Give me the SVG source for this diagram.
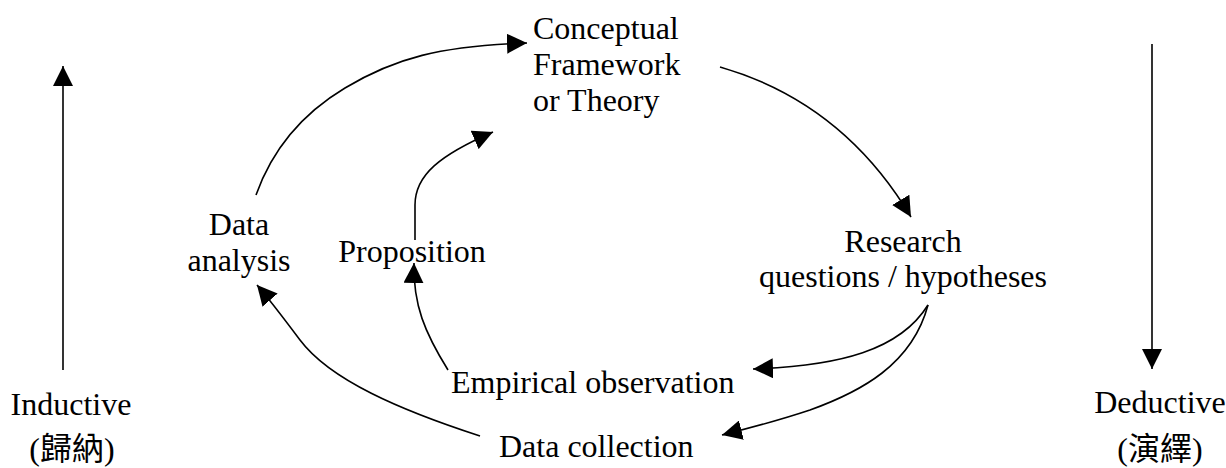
<svg xmlns="http://www.w3.org/2000/svg" width="1226" height="468" viewBox="0 0 1226 468">
<style>
text{font-family:"Liberation Serif","Times New Roman","Noto Sans CJK TC",serif;font-size:32px;fill:#000}
.c{text-anchor:middle}
.ln{fill:none;stroke:#000;stroke-width:1.6;marker-end:url(#ah)}
</style>
<defs>
<marker id="ah" viewBox="0 0 20 20" refX="20" refY="10" markerWidth="20" markerHeight="20" markerUnits="userSpaceOnUse" orient="auto">
<path d="M0,0 L20,10 L0,20 z" fill="#000"/>
</marker>
</defs>
<rect width="1226" height="468" fill="#fff"/>
<g id="connectors">
<path class="ln" d="M256,195 C272,150 300,115 345,88 C395,58 440,46 527,43"/>
<path class="ln" d="M415,240 L415,205 C415,175 440,155 493,132"/>
<path class="ln" d="M720,67 C800,90 865,140 911,217"/>
<path class="ln" d="M928,305 C900,350 840,366 753,369"/>
<path class="ln" d="M928,305 C912,365 860,392 810,410 C780,420 750,428 722,435"/>
<path class="ln" d="M480,436 C400,410 330,380 300,340 C285,320 270,300 257,285"/>
<path class="ln" d="M448,370 C425,333 413,305 414,263"/>
<path class="ln" d="M63,370 L63,66"/>
<path class="ln" d="M1152,44 L1152,369"/>
</g>
<g id="theory">
<text x="533" y="39">Conceptual</text>
<text x="533" y="75">Framework</text>
<text x="533" y="111">or Theory</text>
</g>
<g id="analysis">
<text class="c" x="239" y="235">Data</text>
<text class="c" x="239" y="271">analysis</text>
</g>
<g id="proposition">
<text class="c" x="412" y="262">Proposition</text>
</g>
<g id="research">
<text class="c" x="903" y="252">Research</text>
<text class="c" x="903" y="287">questions / hypotheses</text>
</g>
<g id="observation">
<text x="451" y="393">Empirical observation</text>
</g>
<g id="collection">
<text x="499" y="457">Data collection</text>
</g>
<g id="inductive">
<text class="c" x="71" y="415">Inductive</text>
<text class="c" x="72" y="460">(歸納)</text>
</g>
<g id="deductive">
<text class="c" x="1160" y="413">Deductive</text>
<text class="c" x="1160" y="460">(演繹)</text>
</g>
</svg>
